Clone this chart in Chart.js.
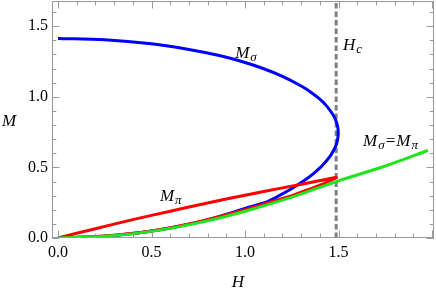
<!DOCTYPE html>
<html><head><meta charset="utf-8">
<script src="https://cdn.jsdelivr.net/npm/chart.js@4"></script>
<style>html,body{margin:0;padding:0;background:#fff;}canvas{display:block;}</style>
</head><body>
<canvas id="c" width="436" height="292"></canvas>
<script>
// M_sigma: upper branch then lower branch
const sigmaH = [0, 0.25, 0.5, 0.7, 0.85, 1.0, 1.1, 1.2, 1.3, 1.35, 1.4, 1.44, 1.47, 1.485, 1.495, 1.498,
                1.495, 1.487, 1.473, 1.455, 1.431, 1.403, 1.369, 1.33, 1.286, 1.246, 1.19, 1.123, 1.0, 0.85, 0.7, 0.5, 0.25, 0];
const sigmaM = [1.414, 1.405, 1.376, 1.336, 1.296, 1.243, 1.199, 1.145, 1.077, 1.035, 0.983, 0.929, 0.873, 0.833, 0.788, 0.744,
                0.70, 0.66, 0.62, 0.58, 0.54, 0.50, 0.46, 0.42, 0.38, 0.347, 0.305, 0.26, 0.21, 0.148, 0.098, 0.05, 0.013, 0];
// M_pi: upper branch then lower branch
const piH = [0, 0.2, 0.4, 0.6, 0.8, 1.0, 1.2, 1.35, 1.487,
             1.46, 1.42, 1.37, 1.31, 1.25, 1.1, 1.0, 0.75, 0.5, 0.25, 0];
const piM = [0, 0.066, 0.13, 0.19, 0.248, 0.303, 0.355, 0.393, 0.428,
             0.41, 0.385, 0.358, 0.33, 0.30, 0.24, 0.2, 0.113, 0.05, 0.014, 0];
// M_sigma = M_pi
const eqH = [0, 0.25, 0.5, 0.75, 1.0, 1.25, 1.5, 1.75, 1.977];
const eqM = [0, 0.012, 0.047, 0.107, 0.19, 0.29, 0.405, 0.51, 0.62];
// critical field
const hcH = [1.487, 1.487];
const hcM = [0, 1.68];

const xTickValues = [0, 0.5, 1.0, 1.5];
const xTickLabels = ['0.0', '0.5', '1.0', '1.5'];
const yTickValues = [0, 0.5, 1.0, 1.5];
const yTickLabels = ['0.0', '0.5', '1.0', '1.5'];
const xMinorStep = 0.1, yMinorStep = 0.1;
const xRange = [-0.032, 2.01];
const yRange = [0, 1.679];

// annotations: [text, style] parts; style i=italic, s=subscript, n=normal
const notes = [
  {h: 0.947, m: 1.277, parts: [['M', 'i'], ['σ', 's']]},
  {h: 1.524, m: 1.334, parts: [['H', 'i'], ['c', 's']]},
  {h: 1.631, m: 0.649, parts: [['M', 'i'], ['σ', 's'], ['=', 'n'], ['M', 'i'], ['π', 's']]},
  {h: 0.545, m: 0.259, parts: [['M', 'i'], ['π', 's']]}
];

const pts = (xs, ys) => xs.map((x, i) => ({x: x, y: ys[i]}));
const SERIF = '"Liberation Serif", "Times New Roman", serif';

function drawRich(ctx, x, y, parts) {
  let cx = x;
  ctx.textAlign = 'left';
  ctx.textBaseline = 'alphabetic';
  ctx.fillStyle = '#000';
  for (const [t, s] of parts) {
    if (s === 'i') { ctx.font = 'italic 17px ' + SERIF; ctx.fillText(t, cx, y); cx += ctx.measureText(t).width + 1; }
    else if (s === 's') { ctx.font = 'italic 13px ' + SERIF; ctx.fillText(t, cx, y + 3); cx += ctx.measureText(t).width + 1; }
    else { ctx.font = '17px ' + SERIF; ctx.fillText(t, cx, y); cx += ctx.measureText(t).width + 1; }
  }
}

const framePlugin = {
  id: 'frame',
  afterDraw(chart) {
    const ctx = chart.ctx, a = chart.chartArea;
    const xs = chart.scales.x, ys = chart.scales.y;
    ctx.save();
    ctx.strokeStyle = '#9a9a9a';
    ctx.lineWidth = 1;
    ctx.strokeRect(a.left + 0.5, a.top + 0.5, a.right - a.left - 1, a.bottom - a.top - 1);
    ctx.beginPath();
    for (let k = 0; k * xMinorStep <= xRange[1] + 1e-9; k++) {
      const v = k * xMinorStep;
      const px = Math.round(xs.getPixelForValue(v)) + 0.5;
      const len = (k % 5 === 0) ? 7.5 : 4.3;
      ctx.moveTo(px, a.bottom); ctx.lineTo(px, a.bottom - len);
      ctx.moveTo(px, a.top); ctx.lineTo(px, a.top + len);
    }
    for (let k = 0; k * yMinorStep <= yRange[1] + 1e-9; k++) {
      const v = k * yMinorStep;
      const py = Math.round(ys.getPixelForValue(v)) + 0.5;
      const len = (k % 5 === 0) ? 7.5 : 4.3;
      ctx.moveTo(a.left, py); ctx.lineTo(a.left + len, py);
      ctx.moveTo(a.right, py); ctx.lineTo(a.right - len, py);
    }
    ctx.stroke();
    for (const n of notes) {
      drawRich(ctx, xs.getPixelForValue(n.h), ys.getPixelForValue(n.m), n.parts);
    }
    ctx.fillStyle = '#000';
    ctx.font = 'italic 17px ' + SERIF;
    ctx.textAlign = 'center';
    ctx.textBaseline = 'alphabetic';
    ctx.fillText('M', 9, (a.top + a.bottom) / 2 + 6.5);
    ctx.fillText('H', (a.left + a.right) / 2 - 5, 287);
    ctx.restore();
  }
};

new Chart(document.getElementById('c'), {
  type: 'scatter',
  data: {
    datasets: [
      {data: pts(eqH, eqM), borderColor: '#1ee61e', borderWidth: 3, order: 0},
      {data: pts(piH, piM), borderColor: '#ff0000', borderWidth: 3, order: 1},
      {data: pts(sigmaH, sigmaM), borderColor: '#0000ff', borderWidth: 3, order: 2},
      {data: pts(hcH, hcM), borderColor: '#808080', borderWidth: 3, borderDash: [5.5, 3], tension: 0, order: 3}
    ].map(d => Object.assign({showLine: true, pointRadius: 0, pointHoverRadius: 0, fill: false, tension: 0.3, borderCapStyle: 'butt', borderJoinStyle: 'round'}, d))
  },
  options: {
    responsive: false,
    animation: false,
    devicePixelRatio: 1,
    layout: {padding: {top: 1, right: 2, left: 0, bottom: 0}},
    plugins: {legend: {display: false}, tooltip: {enabled: false}},
    scales: {
      x: {
        type: 'linear', min: xRange[0], max: xRange[1],
        grid: {display: false, drawTicks: false},
        border: {display: false},
        afterBuildTicks(s) { s.ticks = xTickValues.map(v => ({value: v})); },
        afterFit(s) { s.height = 54; s.paddingLeft = 0; s.paddingRight = 0; },
        ticks: {
          padding: 5, color: '#000', maxRotation: 0, autoSkip: false,
          font: {family: SERIF, size: 16},
          callback: (v) => { const i = xTickValues.indexOf(v); return i >= 0 ? xTickLabels[i] : ''; }
        }
      },
      y: {
        type: 'linear', min: yRange[0], max: yRange[1],
        grid: {display: false, drawTicks: false},
        border: {display: false},
        afterBuildTicks(s) { s.ticks = yTickValues.map(v => ({value: v})); },
        afterFit(s) { s.width = 52; s.paddingTop = 0; s.paddingBottom = 0; },
        ticks: {
          padding: 4, color: '#000', autoSkip: false,
          font: {family: SERIF, size: 16},
          callback: (v) => { const i = yTickValues.indexOf(v); return i >= 0 ? yTickLabels[i] : ''; }
        }
      }
    }
  },
  plugins: [framePlugin]
});
</script>
</body></html>
